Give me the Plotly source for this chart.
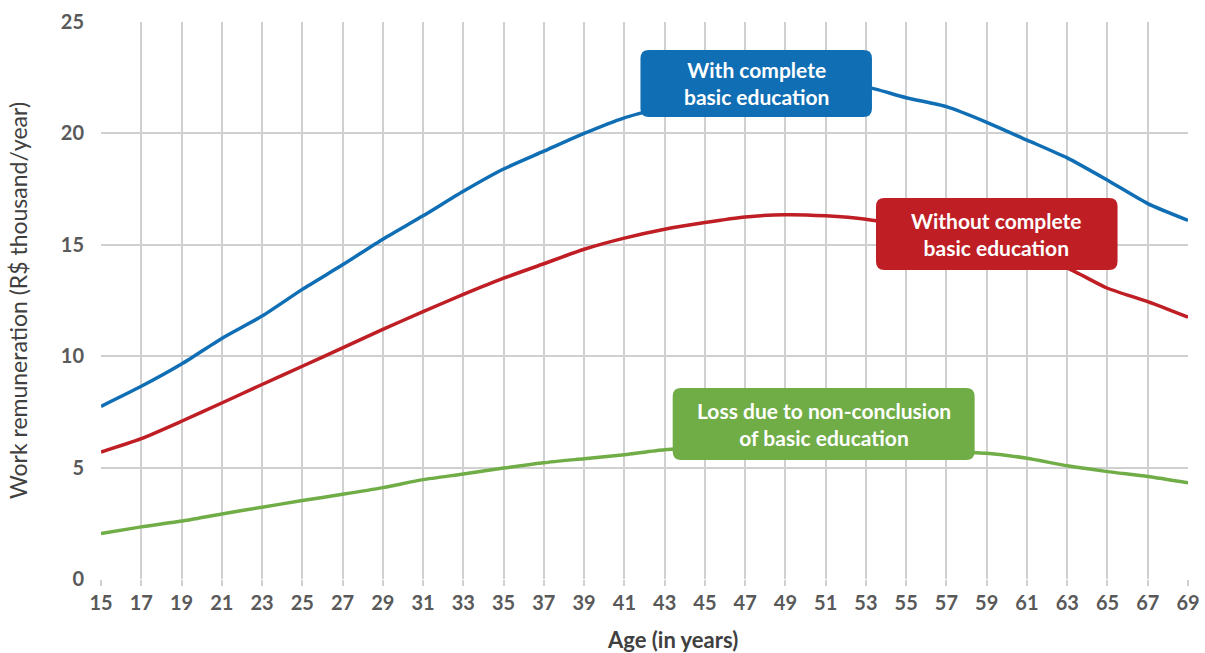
import plotly.graph_objects as go

# Ages (every two years) and annual work remuneration in R$ thousand
ages = list(range(15, 70, 2))
with_basic = [7.75, 8.65, 9.65, 10.8, 11.8, 13.0, 14.1, 15.25, 16.3, 17.4, 18.4, 19.2,
              20.0, 20.7, 21.2, 21.7, 22.1, 22.35, 22.35, 22.1, 21.6, 21.2, 20.5, 19.7,
              18.9, 17.9, 16.85, 16.1]
without_basic = [5.7, 6.3, 7.08, 7.9, 8.73, 9.55, 10.37, 11.2, 12.0, 12.77, 13.5, 14.15,
                 14.8, 15.3, 15.7, 16.0, 16.25, 16.35, 16.3, 16.15, 15.85, 15.5, 15.0,
                 14.45, 13.95, 13.05, 12.45, 11.75]
loss = [2.04, 2.34, 2.6, 2.92, 3.22, 3.52, 3.8, 4.1, 4.46, 4.71, 4.98, 5.22, 5.4, 5.58,
        5.8, 5.9, 5.95, 6.0, 5.95, 5.9, 5.8, 5.72, 5.64, 5.42, 5.08, 4.82, 4.6, 4.32]

series_names = ["With complete<br>basic education",
                "Without complete<br>basic education",
                "Loss due to non-conclusion<br>of basic education"]
series_colors = ["#0F6EB4", "#BE1E24", "#70AD47"]

# label boxes: (x0, x1, y0, y1) in axis units
label_boxes = [(41.8, 53.3, 20.74, 23.74),
               (53.5, 65.5, 13.87, 17.1),
               (43.4, 58.4, 5.34, 8.57)]

fig = go.Figure()
for vals, name, col in zip([with_basic, without_basic, loss], series_names, series_colors):
    fig.add_trace(go.Scatter(x=ages, y=vals, mode="lines", name=name,
                             line=dict(color=col, width=3.5, shape="spline", smoothing=0.6),
                             showlegend=False, hoverinfo="x+y"))


def rounded_rect(x0, x1, y0, y1, rx, ry):
    return (f"M {x0+rx},{y0} L {x1-rx},{y0} Q {x1},{y0} {x1},{y0+ry} "
            f"L {x1},{y1-ry} Q {x1},{y1} {x1-rx},{y1} L {x0+rx},{y1} "
            f"Q {x0},{y1} {x0},{y1-ry} L {x0},{y0+ry} Q {x0},{y0} {x0+rx},{y0} Z")


for (x0, x1, y0, y1), name, col in zip(label_boxes, series_names, series_colors):
    fig.add_shape(type="path", path=rounded_rect(x0, x1, y0, y1, 0.42, 0.38),
                  fillcolor=col, line=dict(width=0), layer="above")
    fig.add_annotation(x=(x0 + x1) / 2, y=(y0 + y1) / 2, text=f"<b>{name}</b>",
                       showarrow=False, align="center",
                       font=dict(family="Lato", size=21, color="white"))

# x-axis title, set slightly right of the plot centre
fig.add_annotation(xref="paper", yref="paper", x=0.526, y=-0.108, yanchor="middle",
                   text="<b>Age (in years)</b>", showarrow=False,
                   font=dict(family="Lato", size=22, color="#404040"))

fig.update_layout(
    width=1205, height=653,
    margin=dict(l=101, r=17, t=22, b=74),
    plot_bgcolor="white", paper_bgcolor="white",
    font=dict(family="Lato", color="#595959"),
)
fig.update_xaxes(range=[15, 69], tickvals=ages,
                 ticktext=[f"<b>{a}</b>" for a in ages],
                 showgrid=True, gridcolor="#D0D0D0", gridwidth=1.5,
                 ticks="outside", ticklen=6, tickcolor="#D0D0D0", tickwidth=1.5,
                 tickfont=dict(size=20, color="#595959"),
                 zeroline=False, showline=False, automargin=False)
fig.update_yaxes(range=[0, 25], tickvals=[0, 5, 10, 15, 20, 25],
                 ticktext=[f"<b>{v}</b>" for v in [0, 5, 10, 15, 20, 25]],
                 showgrid=True, gridcolor="#D0D0D0", gridwidth=1.5,
                 ticks="", ticklabelstandoff=16,
                 tickfont=dict(size=20, color="#595959"),
                 zeroline=False, showline=False, automargin=False,
                 title=dict(text="Work remuneration (R$ thousand/year)",
                            font=dict(size=23, color="#404040"), standoff=26))

fig.write_html("out.html")
